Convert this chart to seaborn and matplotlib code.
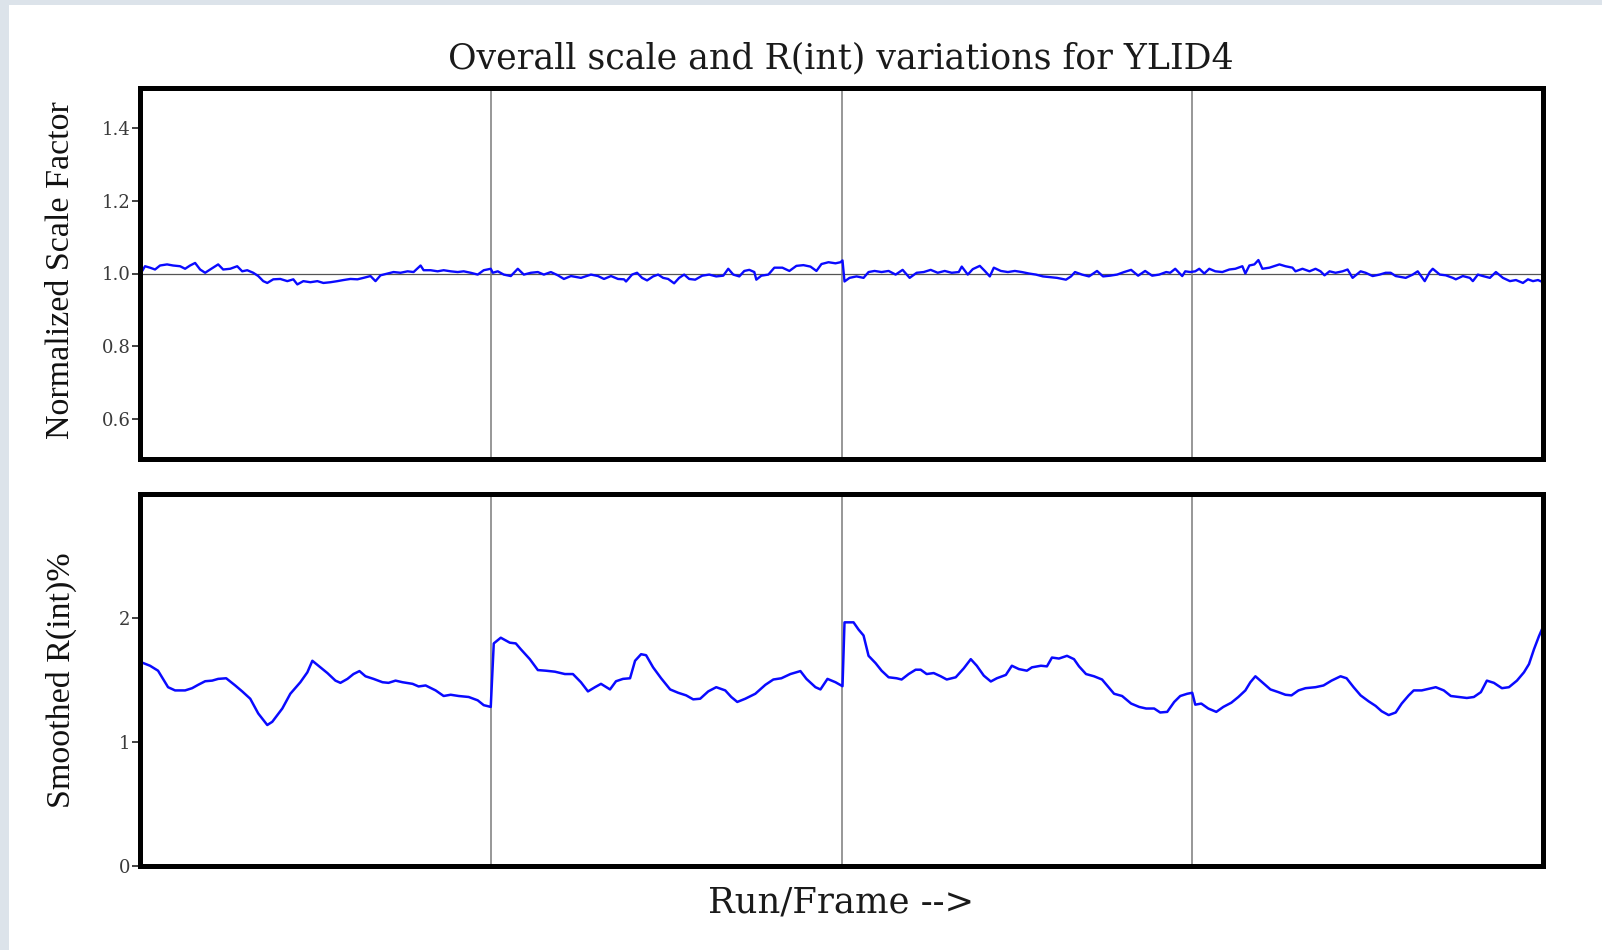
import matplotlib
matplotlib.use("Agg")
import matplotlib.pyplot as plt
from matplotlib.patches import Rectangle
import seaborn as sns
import pandas as pd

# ---------------- data ----------------
title_text = "Overall scale and R(int) variations for YLID4"
xlabel_text = "Run/Frame -->"
top_ylabel = "Normalized Scale Factor"
bottom_ylabel = "Smoothed R(int)%"

run_boundaries = [350, 700, 1050]
total_frames = 1400

scale_ticks = [0.6, 0.8, 1.0, 1.2, 1.4]
scale_ticklabels = ["0.6", "0.8", "1.0", "1.2", "1.4"]
rint_ticks = [0, 1, 2]
rint_ticklabels = ["0", "1", "2"]

# Normalized scale factor (frame, value), per run
scale_frame_run1 = [0, 5, 10, 15, 20, 27, 33, 40, 45, 50, 55, 60, 65, 70, 78, 83, 90, 97, 102, 107,
                    113, 118, 123, 127, 133, 140, 147, 153, 157, 163, 170, 177, 183, 190, 197, 203,
                    210, 217, 223, 230, 235, 240, 247, 253, 260, 267, 273, 280, 283, 290, 297, 303,
                    310, 317, 323, 330, 337, 343, 350]
scale_value_run1 = [0.997, 1.020, 1.016, 1.011, 1.022, 1.025, 1.022, 1.020, 1.013, 1.022, 1.029, 1.011,
                    1.002, 1.011, 1.025, 1.011, 1.013, 1.020, 1.006, 1.009, 1.002, 0.993, 0.979, 0.974,
                    0.984, 0.985, 0.979, 0.984, 0.970, 0.979, 0.976, 0.979, 0.974, 0.976, 0.979, 0.982,
                    0.985, 0.984, 0.988, 0.993, 0.979, 0.995, 1.000, 1.004, 1.002, 1.006, 1.004, 1.022,
                    1.009, 1.009, 1.006, 1.009, 1.006, 1.004, 1.006, 1.002, 0.997, 1.009, 1.013]

scale_frame_run2 = [352, 357, 363, 370, 377, 383, 390, 397, 403, 410, 417, 423, 430, 440, 450, 457, 463,
                    470, 477, 483, 485, 491, 496, 501, 506, 512, 517, 522, 527, 533, 538, 543, 548, 554,
                    561, 568, 575, 582, 587, 592, 598, 603, 608, 613, 615, 620, 627, 633, 641, 648, 655,
                    662, 669, 675, 680, 687, 694, 699, 701]
scale_value_run2 = [1.002, 1.006, 0.997, 0.993, 1.013, 0.997, 1.002, 1.004, 0.997, 1.004, 0.995, 0.985,
                    0.993, 0.988, 0.997, 0.993, 0.985, 0.993, 0.985, 0.984, 0.978, 0.997, 1.002, 0.988,
                    0.981, 0.992, 0.997, 0.988, 0.985, 0.973, 0.988, 0.997, 0.985, 0.983, 0.994, 0.997,
                    0.992, 0.994, 1.013, 0.997, 0.992, 1.007, 1.010, 1.004, 0.983, 0.994, 0.997, 1.016,
                    1.016, 1.007, 1.021, 1.023, 1.019, 1.007, 1.026, 1.031, 1.028, 1.031, 1.036]

scale_frame_run3 = [703, 708, 715, 722, 727, 733, 740, 747, 754, 761, 768, 775, 782, 789, 796, 803, 810,
                    817, 820, 826, 831, 838, 843, 848, 852, 859, 866, 873, 880, 887, 894, 901, 908, 915,
                    924, 929, 933, 940, 947, 955, 961, 968, 975, 982, 989, 996, 1003, 1010, 1017, 1024,
                    1028, 1033, 1040, 1043, 1048]
scale_value_run3 = [0.978, 0.988, 0.992, 0.988, 1.004, 1.007, 1.004, 1.007, 0.997, 1.010, 0.988, 1.002,
                    1.004, 1.010, 1.002, 1.007, 1.002, 1.004, 1.019, 0.997, 1.012, 1.021, 1.007, 0.992,
                    1.016, 1.007, 1.004, 1.007, 1.004, 1.000, 0.997, 0.992, 0.990, 0.988, 0.983, 0.992,
                    1.004, 0.997, 0.992, 1.007, 0.992, 0.994, 0.997, 1.004, 1.010, 0.994, 1.007, 0.994,
                    0.997, 1.004, 1.002, 1.013, 0.993, 1.006, 1.004]

scale_frame_run4 = [1053, 1057, 1062, 1067, 1073, 1080, 1087, 1093, 1100, 1103, 1107, 1112, 1116, 1120,
                    1127, 1137, 1143, 1150, 1153, 1160, 1167, 1173, 1178, 1182, 1187, 1193, 1200, 1205,
                    1210, 1218, 1223, 1230, 1237, 1243, 1248, 1253, 1263, 1270, 1275, 1282, 1287, 1290,
                    1297, 1303, 1310, 1313, 1320, 1327, 1330, 1335, 1340, 1347, 1353, 1360, 1367, 1373,
                    1380, 1385, 1390, 1395, 1400]
scale_value_run4 = [1.006, 1.013, 1.000, 1.013, 1.006, 1.004, 1.011, 1.013, 1.020, 1.000, 1.022, 1.025,
                    1.037, 1.013, 1.016, 1.025, 1.020, 1.016, 1.006, 1.013, 1.006, 1.013, 1.006, 0.995,
                    1.006, 1.002, 1.006, 1.011, 0.988, 1.006, 1.002, 0.993, 0.997, 1.002, 1.002, 0.993,
                    0.988, 0.997, 1.006, 0.979, 1.004, 1.013, 0.997, 0.995, 0.988, 0.984, 0.993, 0.988,
                    0.979, 0.997, 0.993, 0.988, 1.004, 0.988, 0.979, 0.982, 0.974, 0.984, 0.979, 0.982,
                    0.976]

# Smoothed R(int) % (frame, value), per run
rint_frame_run1 = [0, 10, 18, 23, 28, 35, 45, 52, 58, 65, 72, 78, 86, 95, 102, 110, 118, 127, 132, 142,
                   150, 160, 167, 172, 178, 187, 195, 200, 207, 213, 219, 225, 233, 242, 248, 255, 262,
                   272, 278, 285, 295, 303, 310, 318, 328, 337, 343, 350]
rint_value_run1 = [1.647, 1.615, 1.575, 1.509, 1.442, 1.416, 1.416, 1.434, 1.461, 1.490, 1.495, 1.509,
                   1.514, 1.456, 1.408, 1.349, 1.230, 1.137, 1.163, 1.270, 1.389, 1.482, 1.562, 1.655,
                   1.615, 1.556, 1.495, 1.477, 1.509, 1.548, 1.572, 1.530, 1.509, 1.482, 1.477, 1.495,
                   1.482, 1.469, 1.448, 1.456, 1.416, 1.371, 1.381, 1.371, 1.363, 1.336, 1.297, 1.283]

rint_frame_run2 = [353, 360, 369, 375, 380, 389, 397, 405, 414, 424, 432, 440, 447, 454, 460, 469, 475,
                   482, 489, 494, 500, 505, 512, 520, 529, 537, 545, 552, 559, 567, 575, 584, 590, 596,
                   604, 614, 624, 632, 640, 649, 659, 665, 674, 679, 686, 694, 701]
rint_value_run2 = [1.795, 1.841, 1.801, 1.795, 1.748, 1.668, 1.580, 1.575, 1.567, 1.548, 1.548, 1.482,
                   1.408, 1.442, 1.469, 1.424, 1.490, 1.509, 1.514, 1.655, 1.708, 1.700, 1.602, 1.514,
                   1.424, 1.397, 1.376, 1.344, 1.349, 1.408, 1.442, 1.416, 1.363, 1.323, 1.349, 1.389,
                   1.461, 1.504, 1.514, 1.548, 1.572, 1.509, 1.442, 1.424, 1.509, 1.482, 1.450]

rint_frame_run3 = [703, 712, 717, 722, 727, 734, 740, 747, 755, 760, 767, 774, 779, 785, 792, 799, 805,
                   814, 822, 829, 835, 842, 849, 855, 864, 870, 877, 885, 890, 899, 905, 910, 917, 925,
                   932, 937, 944, 952, 960, 965, 972, 980, 989, 997, 1004, 1012, 1018, 1025, 1032, 1038,
                   1045, 1050]
rint_value_run3 = [1.965, 1.965, 1.907, 1.859, 1.695, 1.636, 1.575, 1.522, 1.514, 1.504, 1.548, 1.583,
                   1.583, 1.548, 1.556, 1.530, 1.504, 1.522, 1.594, 1.668, 1.615, 1.535, 1.488, 1.514,
                   1.541, 1.615, 1.588, 1.575, 1.602, 1.615, 1.610, 1.681, 1.673, 1.695, 1.668, 1.610,
                   1.548, 1.530, 1.504, 1.456, 1.389, 1.371, 1.310, 1.283, 1.270, 1.270, 1.238, 1.243,
                   1.323, 1.371, 1.389, 1.397]

rint_frame_run4 = [1053, 1059, 1066, 1074, 1081, 1089, 1096, 1103, 1108, 1113, 1119, 1128, 1136, 1143,
                   1149, 1156, 1163, 1173, 1181, 1189, 1198, 1204, 1211, 1218, 1226, 1233, 1239, 1246,
                   1253, 1259, 1266, 1271, 1279, 1286, 1293, 1301, 1308, 1316, 1324, 1331, 1338, 1344,
                   1351, 1359, 1366, 1374, 1381, 1386, 1391, 1396, 1400]
rint_value_run4 = [1.301, 1.310, 1.270, 1.243, 1.283, 1.317, 1.363, 1.416, 1.482, 1.530, 1.488, 1.424,
                   1.402, 1.381, 1.376, 1.416, 1.434, 1.442, 1.456, 1.495, 1.530, 1.514, 1.442, 1.376,
                   1.328, 1.291, 1.248, 1.217, 1.238, 1.310, 1.376, 1.416, 1.416, 1.429, 1.442, 1.416,
                   1.371, 1.363, 1.355, 1.363, 1.402, 1.495, 1.477, 1.434, 1.442, 1.495, 1.562, 1.628,
                   1.748, 1.854, 1.928]

# ---------------- assemble ----------------
scale_df = pd.DataFrame({
    "frame": scale_frame_run1 + scale_frame_run2 + scale_frame_run3 + scale_frame_run4,
    "value": scale_value_run1 + scale_value_run2 + scale_value_run3 + scale_value_run4,
})
rint_df = pd.DataFrame({
    "frame": rint_frame_run1 + rint_frame_run2 + rint_frame_run3 + rint_frame_run4,
    "value": rint_value_run1 + rint_value_run2 + rint_value_run3 + rint_value_run4,
})

sns.set_theme(style="white")
plt.rcParams["font.family"] = ["Liberation Serif", "DejaVu Serif"]
wide_font = ["DejaVu Serif"]

W, H = 1602, 950
fig = plt.figure(figsize=(W / 100, H / 100), dpi=100)
fig.patch.set_facecolor("#dce3ea")
fig.patches.append(Rectangle((9 / W, 0), 1 - 9 / W, 945 / H, transform=fig.transFigure,
                             facecolor="white", edgecolor="none", zorder=-5))

L, R = 140, 1543
ax1 = fig.add_axes([L / W, 1 - 459 / H, (R - L) / W, (459 - 88) / H])
ax2 = fig.add_axes([L / W, 1 - 866 / H, (R - L) / W, (866 - 494) / H])

line_color = "#0a0aff"

sns.lineplot(data=scale_df, x="frame", y="value", ax=ax1, color=line_color, linewidth=1.7,
             estimator=None, sort=False)
sns.lineplot(data=rint_df, x="frame", y="value", ax=ax2, color=line_color, linewidth=1.8,
             estimator=None, sort=False)

ax1.axhline(1.0, color="#555555", linewidth=0.9, zorder=1)

for ax, ticks, labels, ylim in [(ax1, scale_ticks, scale_ticklabels, (0.49, 1.51)),
                                (ax2, rint_ticks, rint_ticklabels, (0, 3))]:
    ax.set_facecolor("white")
    ax.set_xlim(0, total_frames)
    ax.set_ylim(*ylim)
    ax.set_xticks([])
    ax.set_yticks(ticks)
    ax.set_yticklabels(labels, fontfamily=wide_font)
    ax.set_xlabel("")
    ax.set_ylabel("")
    for b in run_boundaries:
        ax.axvline(b, color="#7a7a7a", linewidth=1.1, zorder=1)
    for s in ax.spines.values():
        s.set_visible(True)
        s.set_color("black")
        s.set_linewidth(3.6)
    ax.tick_params(axis="y", left=True, direction="out", length=6, width=1.3, color="#333333",
                   labelsize=13, labelcolor="#3a3a3a", pad=1)

fig.text(841 / W, 1 - 58 / H, title_text, ha="center", va="center", fontsize=25,
         color="#1a1a1a", family=wide_font)
fig.text(841 / W, 1 - 903 / H, xlabel_text, ha="center", va="center", fontsize=25.5,
         color="#1a1a1a", family=wide_font)
fig.text(61 / W, 1 - 270 / H, top_ylabel, ha="center", va="center", rotation=90,
         fontsize=24.5, color="#111111")
fig.text(61 / W, 1 - 680 / H, bottom_ylabel, ha="center", va="center", rotation=90,
         fontsize=24.5, color="#111111")

fig.savefig("out.png", dpi=100, facecolor=fig.get_facecolor())
